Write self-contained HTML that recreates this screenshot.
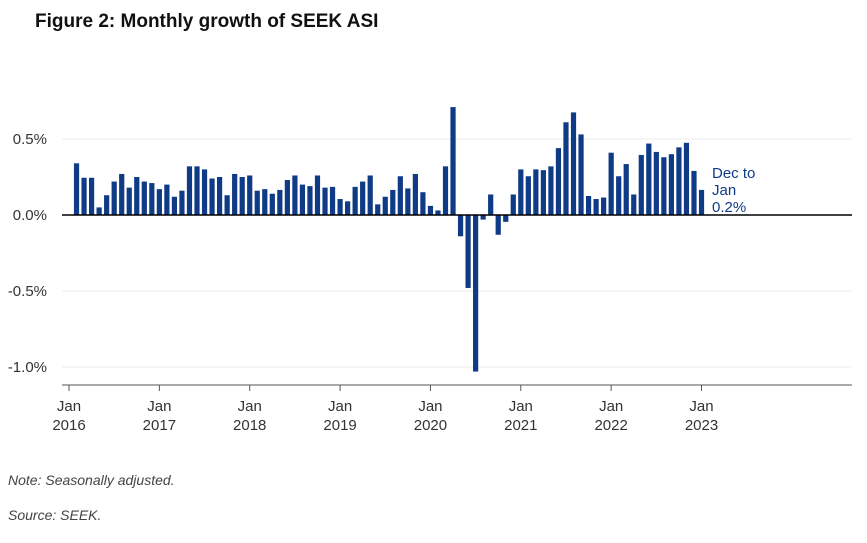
<!DOCTYPE html>
<html><head><meta charset="utf-8"><style>
body{margin:0;background:#fff;width:867px;height:543px;overflow:hidden;font-family:"Liberation Sans",sans-serif}
.t{position:absolute;left:35px;top:11px;font-size:19px;font-weight:bold;color:#111}
.n{position:absolute;left:8px;font-size:14px;font-style:italic;color:#444}
</style></head><body>
<div class="t">Figure 2: Monthly growth of SEEK ASI</div>
<svg id="c" width="867" height="543" style="position:absolute;left:0;top:0"></svg>
<div class="n" style="top:472px">Note: Seasonally adjusted.</div>
<div class="n" style="top:507px">Source: SEEK.</div>
<script>
const values = [0.34,0.245,0.245,0.05,0.13,0.22,0.27,0.18,0.25,0.22,0.21,0.17,
0.20,0.12,0.16,0.32,0.32,0.30,0.24,0.25,0.13,0.27,0.25,0.26,
0.16,0.17,0.14,0.165,0.23,0.26,0.20,0.19,0.26,0.18,0.185,0.105,
0.09,0.185,0.22,0.26,0.07,0.12,0.165,0.255,0.175,0.27,0.15,0.06,
0.03,0.32,0.71,-0.14,-0.48,-1.03,-0.03,0.135,-0.13,-0.045,0.135,0.30,
0.255,0.30,0.295,0.32,0.44,0.61,0.675,0.53,0.125,0.105,0.115,0.41,
0.255,0.335,0.135,0.395,0.47,0.415,0.38,0.40,0.445,0.475,0.29,0.165];
const yTicks = [0.5,0.0,-0.5,-1.0];
const yTickLabels = ["0.5%","0.0%","-0.5%","-1.0%"];
const xYears = ["2016","2017","2018","2019","2020","2021","2022","2023"];
const svg=document.getElementById('c');const NS='http://www.w3.org/2000/svg';
function el(t,a){const e=document.createElementNS(NS,t);for(const k in a)e.setAttribute(k,a[k]);svg.appendChild(e);return e;}
const x0=69, mw=7.53;
const xs=m=>x0+m*mw;
const ys=v=>215-v*152;
yTicks.forEach((v,i)=>{
 if(v!==0){const g=el('line',{x1:62,x2:852,y1:ys(v),y2:ys(v),stroke:'#ececec','stroke-width':1});
 
 }
 const t=el('text',{x:47,y:ys(v)+5,'text-anchor':'end','font-size':15,fill:'#333'});t.textContent=yTickLabels[i];
 
 
});
values.forEach((v,i)=>{
 const cx=xs(i+1);const y=ys(Math.max(v,0)),h=Math.abs(ys(v)-ys(0));
 const r=el('rect',{x:cx-2.6,y:y,width:5.2,height:Math.max(h,0.5),fill:'#0e3a86'});
 
 
});
const z=el('line',{x1:62,x2:852,y1:ys(0),y2:ys(0),stroke:'#000','stroke-width':1.5});


const ax=el('line',{x1:62,x2:852,y1:385,y2:385,stroke:'#555','stroke-width':1});


xYears.forEach((yr,k)=>{
 const x=xs(k*12);
 const tk=el('line',{x1:x,x2:x,y1:385,y2:391,stroke:'#555'});
 
 
 const t1=el('text',{x:x,y:411,'text-anchor':'middle','font-size':15,fill:'#333'});t1.textContent='Jan';
 
 
 const t2=el('text',{x:x,y:430,'text-anchor':'middle','font-size':15,fill:'#333'});t2.textContent=yr;
 
 
});
['Dec to','Jan','0.2%'].forEach((s,i)=>{
 const t=el('text',{x:712,y:178+i*17,'font-size':15,fill:'#0e3a86'});t.textContent=s;
 
 
});
</script>
</body></html>
